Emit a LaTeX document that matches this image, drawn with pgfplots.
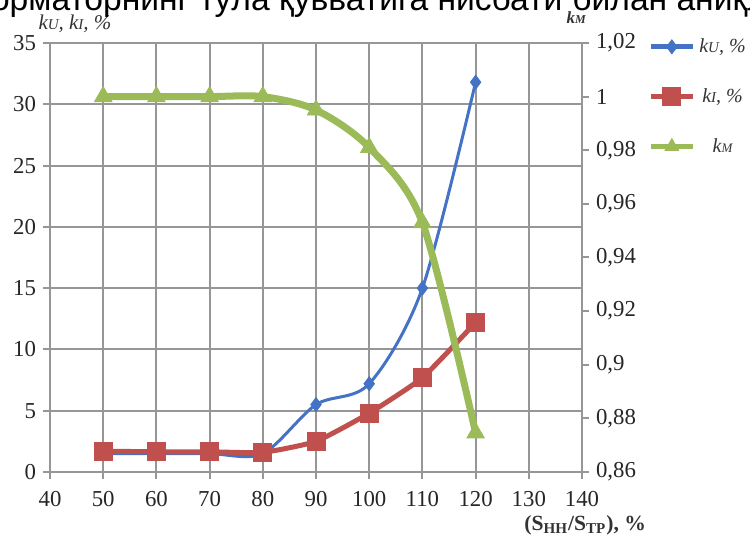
\documentclass[border=0pt]{standalone}
\usepackage{pgfplots}
\pgfplotsset{compat=1.18}
\usepackage{fontspec}
\setmainfont{Liberation Serif}
\newfontfamily\arial{Liberation Sans}
\definecolor{cU}{RGB}{68,114,196}
\definecolor{cI}{RGB}{192,80,77}
\definecolor{cM}{RGB}{155,187,89}
\definecolor{gridc}{RGB}{150,150,150}
\begin{document}
\begin{tikzpicture}
\pgfplotsset{
  every axis/.append style={
    scale only axis, width=266pt, height=214.5pt,
    xmin=40, xmax=140,
    tick label style={font=\fontsize{11.4}{13}\selectfont, text=black!85},
    /pgf/number format/assume math mode=true,
    axis line style={gridc, line width=1pt},
    tick style={gridc, line width=1pt},
    tick align=outside, major tick length=3.5pt,
  },
  legend image code/.code={\draw[mark repeat=2,mark phase=2,#1] plot coordinates {(0pt,0pt) (10.5pt,0pt) (21pt,0pt)};}
}
\begin{axis}[
  ymin=0, ymax=35, ytick={0,5,...,35},
  xtick={40,50,...,140},
  xticklabel style={yshift=-2.5pt},
  grid=major, major grid style={gridc, line width=1pt},
  xtick pos=bottom, ytick pos=left,
  clip=false,
]
\addplot[cU, line width=1.5pt, mark=diamond*, mark size=3.5pt, mark options={line width=0.4pt}, smooth] coordinates {(50,1.5)(60,1.5)(70,1.5)(80,1.5)(90,5.5)(100,7.2)(110,15)(120,31.8)};
\addplot[cI, line width=2.5pt, mark=square*, mark size=4.5pt, mark options={line width=0.4pt}, smooth, tension=0.3] coordinates {(50,1.7)(60,1.65)(70,1.65)(80,1.6)(90,2.5)(100,4.8)(110,7.7)(120,12.2)};
\node[anchor=base, font=\fontsize{10.5}{12}\selectfont\itshape, text=black!80] at (rel axis cs:0.047,1) [yshift=6.5pt] {k{\fontsize{7.5}{8}\selectfont U}, k{\fontsize{7.5}{8}\selectfont I}, \%};
\node[anchor=base, font=\fontsize{8.5}{9}\selectfont\bfseries\itshape, text=black!80] at (rel axis cs:0.989,1) [yshift=9.5pt] {k{\fontsize{6}{6}\selectfont М}};
\node[anchor=center, font=\fontsize{10.8}{13}\selectfont\bfseries, text=black!80] at (rel axis cs:1.006,0) [yshift=-26.5pt] {(S\textsubscript{НН}/S\textsubscript{ТР}), \%};
\end{axis}
\begin{axis}[
  ymin=0.86, ymax=1.02, ytick={0.86,0.88,0.90,0.92,0.94,0.96,0.98,1.00,1.02},
  axis x line=none, axis y line*=right,
  yticklabel style={/pgf/number format/.cd, use comma, fixed, precision=2},
  legend style={at={(rel axis cs:1.124,1)}, anchor=north west, yshift=4.5pt, draw=none, fill=none, inner sep=0pt,
    font=\fontsize{10}{11}\selectfont\itshape, row sep=12.5pt, text=black!80},
]
\addlegendimage{cU, line width=2.5pt, mark=diamond*, mark size=3.5pt, mark options={line width=0.4pt}}
\addlegendentry{k{\fontsize{7.5}{8}\selectfont U}, \%}
\addlegendimage{cI, line width=2.5pt, mark=square*, mark size=4.5pt, mark options={line width=0.4pt}}
\addlegendentry{k{\fontsize{7.5}{8}\selectfont I}, \%}
\addlegendimage{cM, line width=2.5pt, mark=triangle*, mark size=4pt, mark options={line width=0.4pt}}
\addlegendentry{k{\fontsize{6.5}{7}\selectfont М}}
\addplot[cM, line width=3.5pt, mark=triangle*, mark size=5pt, mark options={line width=0.4pt}, smooth, forget plot] coordinates {(50,1)(60,1)(70,1)(80,1)(90,0.995)(100,0.981)(110,0.953)(120,0.8746)};
\end{axis}
\node[anchor=base east, inner sep=0pt, font=\arial\fontsize{16.8}{19}\selectfont] at (256.35pt,230.75pt) {трансформаторнинг тўла қувватига нисбати};
\node[anchor=base west, inner sep=0pt, font=\arial\fontsize{16.8}{19}\selectfont] at (261pt,230.75pt) {билан аниқланган};
\pgfresetboundingbox
\path[use as bounding box] (-25pt,-31.5pt) rectangle (350pt,236pt);
\end{tikzpicture}
\end{document}
